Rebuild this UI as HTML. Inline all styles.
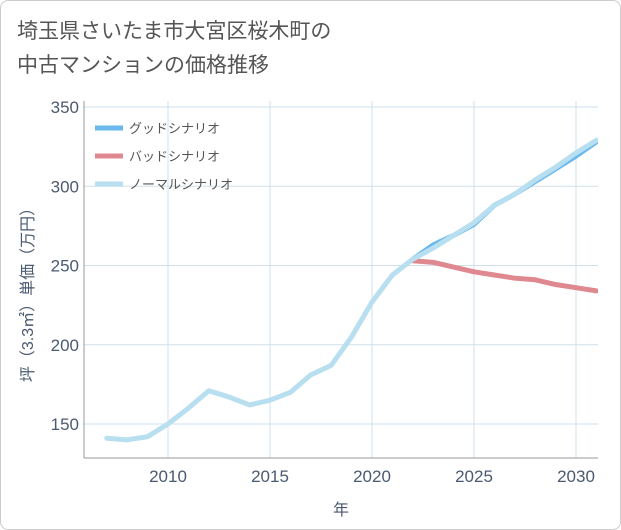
<!DOCTYPE html>
<html><head><meta charset="utf-8"><style>
body{margin:0;background:#fff;font-family:"Liberation Sans","Noto Sans CJK JP",sans-serif;}
#wrap{position:relative;width:619px;height:528px;border:1px solid #ccc;border-radius:8px;background:#fff;overflow:hidden}
#title{position:absolute;left:16px;top:14px;font-size:21px;line-height:34px;color:#555;}
</style></head><body>
<div id="wrap">
<div id="title">埼玉県さいたま市大宮区桜木町の<br>中古マンションの価格推移</div>
<svg id="chart" width="621" height="530" style="position:absolute;left:0;top:0"></svg>
</div>
<script>
const years=[2007,2008,2009,2010,2011,2012,2013,2014,2015,2016,2017,2018,2019,2020,2021,2022,2023,2024,2025,2026,2027,2028,2029,2030,2031];
const normalVals=[141,140,142,150,160,171,167,162,165,170,181,187,205,227,244,254,261,269,277,288,295,304,312,321,329];
const goodYears=[2022,2023,2024,2025,2026,2027,2028,2029,2030,2031];
const goodVals=[254,263,269,276,288,295,303,311,319,328];
const badYears=[2022,2023,2024,2025,2026,2027,2028,2029,2030,2031];
const badVals=[253,252,249,246,244,242,241,238,236,234];
const xTicks=[2010,2015,2020,2025,2030];
const yTicks=[150,200,250,300,350];
const legendLabels=["グッドシナリオ","バッドシナリオ","ノーマルシナリオ"];
const legendColors=["#6bb8ec","#e08890","#b8dff0"];

const svg=document.getElementById('chart');
const NS="http://www.w3.org/2000/svg";
const L=83,R=597,T=100,B=457;
const x=v=>167+(v-2010)*(575-167)/20;
const y=v=>423-(v-150)*(423-106)/200;
function mk(tag,attrs,parent){const e=document.createElementNS(NS,tag);for(const k in attrs)e.setAttribute(k,attrs[k]);(parent||svg).appendChild(e);return e;}

const grid=mk('g',{});


xTicks.forEach(t=>mk('line',{x1:x(t),x2:x(t),y1:T,y2:B,stroke:'#cfe0ec','stroke-width':1},grid));
yTicks.forEach(t=>mk('line',{x1:L,x2:R,y1:y(t),y2:y(t),stroke:'#cfe0ec','stroke-width':1},grid));
mk('line',{x1:L,x2:L,y1:T,y2:B,stroke:'#999'});
mk('line',{x1:L,x2:R,y1:B,y2:B,stroke:'#999'});

xTicks.forEach(t=>{const e=mk('text',{x:x(t),y:481,'text-anchor':'middle','font-size':17,fill:'#4a5a70'});e.textContent=t;
 
 });
yTicks.forEach(t=>{const e=mk('text',{x:78,y:y(t)+6,'text-anchor':'end','font-size':17,fill:'#4a5a70'});e.textContent=t;
 
 });
const xt=mk('text',{x:340,y:514,'text-anchor':'middle','font-size':16,fill:'#4a5a70'});xt.textContent='年';


const yt=mk('text',{x:0,y:0,'text-anchor':'middle','font-size':16,fill:'#4a5a70',transform:'translate(32,290) rotate(-90)'});yt.textContent='坪（3.3㎡）単価（万円）';



const clip=mk('clipPath',{id:'pc'});mk('rect',{x:L,y:T-5,width:R-L,height:B-T+5},clip);
function line(xs,vs,color,name){const p=mk('path',{d:xs.map((yr,i)=>(i?'L':'M')+x(yr)+','+y(vs[i])).join(''),fill:'none',stroke:color,'stroke-width':5,'stroke-linejoin':'round','stroke-linecap':'round','clip-path':'url(#pc)'});
 
 }
line(goodYears,goodVals,legendColors[0],'good-scenario-line');
line(badYears,badVals,legendColors[1],'bad-scenario-line');
line(years,normalVals,legendColors[2],'normal-scenario-line');

legendLabels.forEach((lab,i)=>{const g=mk('g',{});
 
 
 const ly=127+i*28;
 mk('line',{x1:94,x2:122,y1:ly,y2:ly,stroke:legendColors[i],'stroke-width':5},g);
 const t=mk('text',{x:128,y:ly+5,'font-size':13,fill:'#555'},g);t.textContent=lab;});
</script>
</body></html>
